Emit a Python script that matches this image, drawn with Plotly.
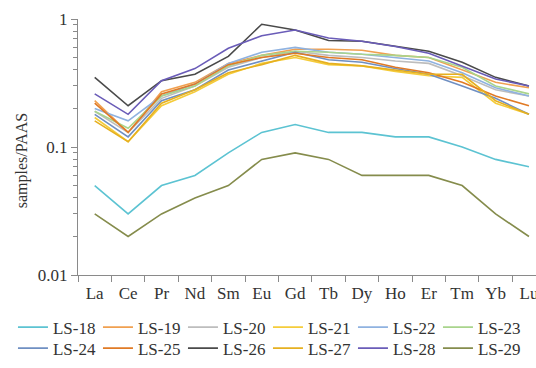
import plotly.graph_objects as go

elements = ["La", "Ce", "Pr", "Nd", "Sm", "Eu", "Gd", "Tb", "Dy", "Ho", "Er", "Tm", "Yb", "Lu"]

ls18 = [0.05, 0.03, 0.05, 0.06, 0.09, 0.13, 0.15, 0.13, 0.13, 0.12, 0.12, 0.10, 0.08, 0.07]
ls19 = [0.23, 0.13, 0.27, 0.32, 0.45, 0.52, 0.58, 0.58, 0.57, 0.52, 0.50, 0.40, 0.32, 0.29]
ls20 = [0.19, 0.13, 0.24, 0.30, 0.42, 0.50, 0.56, 0.52, 0.50, 0.47, 0.45, 0.36, 0.28, 0.25]
ls21 = [0.17, 0.11, 0.21, 0.27, 0.37, 0.45, 0.50, 0.44, 0.43, 0.39, 0.36, 0.35, 0.22, 0.18]
ls22 = [0.20, 0.16, 0.25, 0.31, 0.45, 0.55, 0.60, 0.55, 0.53, 0.50, 0.47, 0.38, 0.29, 0.25]
ls23 = [0.19, 0.14, 0.25, 0.30, 0.43, 0.52, 0.56, 0.55, 0.53, 0.52, 0.50, 0.42, 0.30, 0.26]
ls24 = [0.18, 0.12, 0.23, 0.28, 0.40, 0.47, 0.55, 0.48, 0.46, 0.41, 0.37, 0.30, 0.24, 0.18]
ls25 = [0.22, 0.13, 0.26, 0.31, 0.44, 0.50, 0.54, 0.50, 0.48, 0.42, 0.38, 0.32, 0.25, 0.21]
ls26 = [0.35, 0.21, 0.33, 0.37, 0.51, 0.91, 0.82, 0.68, 0.67, 0.61, 0.56, 0.46, 0.35, 0.30]
ls27 = [0.16, 0.11, 0.22, 0.28, 0.38, 0.44, 0.52, 0.45, 0.43, 0.40, 0.37, 0.37, 0.23, 0.18]
ls28 = [0.26, 0.18, 0.33, 0.41, 0.59, 0.74, 0.82, 0.71, 0.67, 0.61, 0.54, 0.43, 0.34, 0.30]
ls29 = [0.03, 0.02, 0.03, 0.04, 0.05, 0.08, 0.09, 0.08, 0.06, 0.06, 0.06, 0.05, 0.03, 0.02]

names = ["LS-18", "LS-19", "LS-20", "LS-21", "LS-22", "LS-23",
         "LS-24", "LS-25", "LS-26", "LS-27", "LS-28", "LS-29"]
series = [ls18, ls19, ls20, ls21, ls22, ls23, ls24, ls25, ls26, ls27, ls28, ls29]
colors = ["#5cc3d2", "#f0a050", "#bdbdbd", "#f5cc3a", "#8fb2e0", "#a9d48c",
          "#6f8fc2", "#e07a25", "#4a4a4a", "#e6b020", "#6a5cb8", "#858c4c"]

FONT = "Liberation Serif"

fig = go.Figure()
for i, (name, vals, col) in enumerate(zip(names, series, colors)):
    fig.add_trace(go.Scatter(
        x=elements, y=vals, name=name, mode="lines",
        line=dict(color=col, width=1.6),
        legend="legend" if i < 6 else "legend2",
    ))

legend_common = dict(
    orientation="h", xanchor="left", yanchor="top",
    font=dict(family=FONT, size=17, color="#333"),
    bgcolor="rgba(0,0,0,0)", itemwidth=30,
    entrywidth=40, entrywidthmode="pixels",
    tracegroupgap=0,
)

fig.update_layout(
    width=536, height=368,
    margin=dict(l=78, r=0, t=19, b=93, autoexpand=False),
    paper_bgcolor="white", plot_bgcolor="white",
    showlegend=True,
    legend=dict(x=-0.142, y=-0.135, **legend_common),
    legend2=dict(x=-0.142, y=-0.217, **legend_common),
    xaxis=dict(
        type="category", categoryorder="array", categoryarray=elements,
        range=[-0.5, 13.21], tickson="boundaries",
        showline=True, linecolor="#8a8a8a", linewidth=1,
        ticks="outside", ticklen=6, tickcolor="#8a8a8a",
        ticklabelstandoff=3,
        showgrid=False, zeroline=False,
        tickfont=dict(family=FONT, size=17, color="#333"),
    ),
    yaxis=dict(
        type="log", range=[-2, 0], dtick=1,
        showline=True, linecolor="#8a8a8a", linewidth=1,
        ticks="outside", ticklen=6, tickcolor="#8a8a8a",
        minor=dict(ticks="outside", ticklen=4, tickcolor="#8a8a8a",
                   dtick="D1", showgrid=False),
        showgrid=False, zeroline=False,
        tickfont=dict(family=FONT, size=17, color="#333"),
    ),
    annotations=[dict(
        text="samples/PAAS", textangle=-90, showarrow=False,
        xref="paper", yref="paper", x=-0.122, y=0.445,
        xanchor="center", yanchor="middle",
        font=dict(family=FONT, size=16, color="#333"),
    )],
)

fig.write_html("out.html")
